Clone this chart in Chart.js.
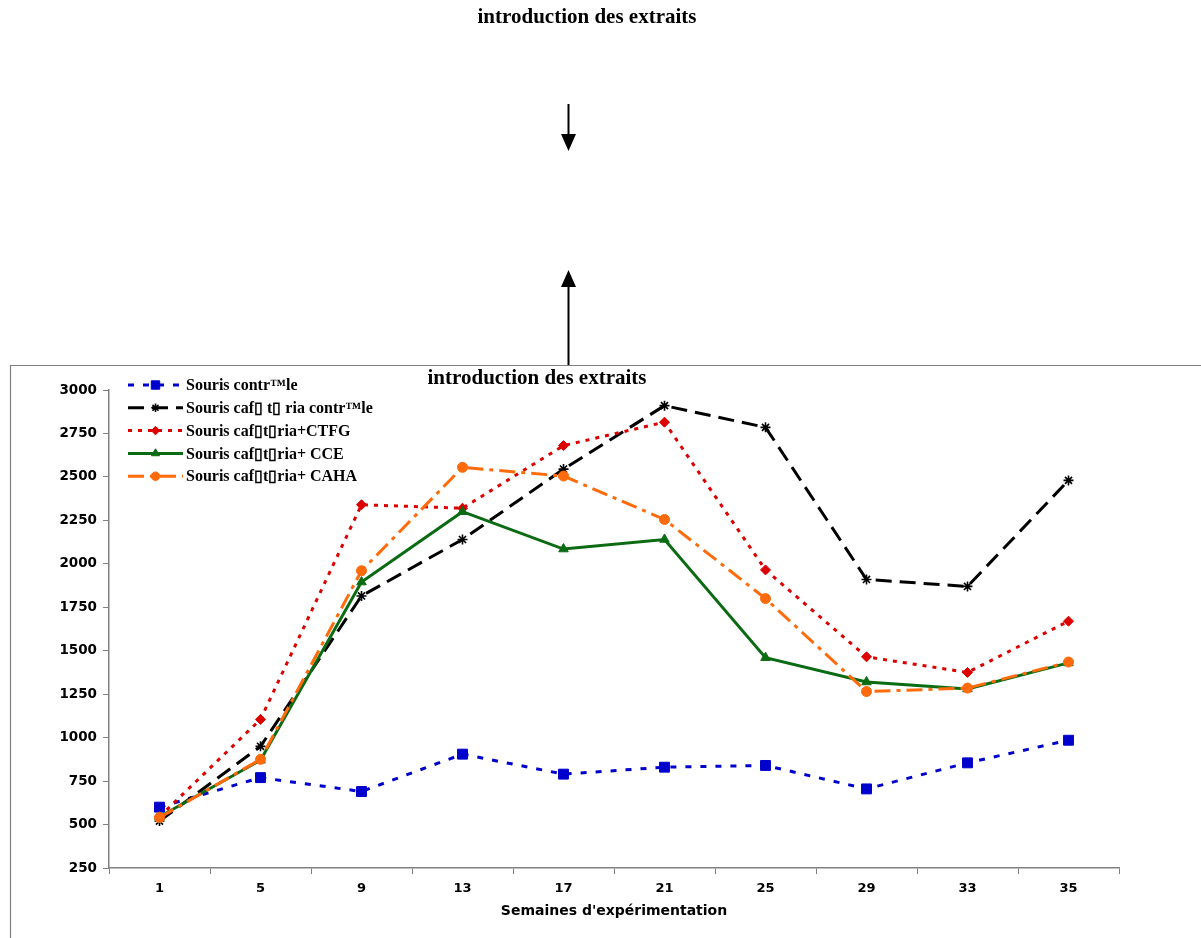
<!DOCTYPE html>
<html>
<head>
<meta charset="utf-8">
<script src="https://cdn.jsdelivr.net/npm/chart.js@4.4.1/dist/chart.umd.min.js"></script>
<style>
  html, body { margin: 0; padding: 0; background: #fff; }
  #wrap { width: 1201px; height: 938px; position: relative; }
</style>
</head>
<body>
<div id="wrap"><canvas id="poids" width="1201" height="938"></canvas></div>
<script>
// semaines
var semaines = ["1", "5", "9", "13", "17", "21", "25", "29", "33", "35"];

var controle      = [600, 770, 690, 905, 790, 830, 840, 705, 855, 985];
var cafControle   = [520, 950, 1815, 2140, 2545, 2910, 2785, 1910, 1870, 2480];
var cafCTFG       = [545, 1105, 2340, 2320, 2680, 2815, 1965, 1465, 1375, 1670];
var cafCCE        = [545, 870, 1895, 2300, 2085, 2140, 1460, 1320, 1280, 1430];
var cafCAHA       = [540, 875, 1960, 2555, 2505, 2255, 1800, 1265, 1285, 1435];

var yTicks = { min: 250, max: 3000, step: 250 };

var titre = "introduction des extraits";
var xTitre = "Semaines d'exp\u00e9rimentation";

var noms = [
	"Souris contr\u2122le",
	"Souris caf\u25AF t\u25AF ria contr\u2122le",
	"Souris caf\u25AFt\u25AFria+CTFG",
	"Souris caf\u25AFt\u25AFria+ CCE",
	"Souris caf\u25AFt\u25AFria+ CAHA"
];

function serie(label, data, color, dash, style, radius, order) {
	return {
		label: label,
		data: data,
		fill: false,
		lineTension: 0,
		borderWidth: 3,
		borderColor: color,
		backgroundColor: color,
		borderDash: dash,
		pointStyle: style,
		pointRadius: radius,
		pointBorderWidth: style === "star" ? 1.6 : 1,
		pointBackgroundColor: color,
		pointBorderColor: color,
		order: order
	};
}

var datasets = [
	serie(noms[0], controle, "#0000CC", [6, 9], "rect", 7, 5),
	serie(noms[1], cafControle, "#000000", [16, 8], "star", 5, 4),
	serie(noms[2], cafCTFG, "#DD0000", [4, 6], "rectRot", 5, 3),
	serie(noms[3], cafCCE, "#0B6B12", [], "triangle", 5.5, 2),
	serie(noms[4], cafCAHA, "#FF6A0A", [16, 6, 4, 6], "circle", 5, 1)
];

// titre, flèches, cadre et légende
var decor = {
	id: "decor",
	afterDraw: function(chart) {
		var ctx = chart.ctx;
		ctx.save();

		// cadre du graphique
		ctx.strokeStyle = "#808080";
		ctx.lineWidth = 1.2;
		ctx.beginPath();
		ctx.moveTo(10.5, 938);
		ctx.lineTo(10.5, 365.5);
		ctx.lineTo(1201, 365.5);
		ctx.stroke();

		ctx.fillStyle = "#000";
		ctx.font = "bold 21px 'Liberation Serif'";
		ctx.textAlign = "center";
		ctx.textBaseline = "middle";
		ctx.fillText(titre, 587, 18);
		ctx.fillText(titre, 537, 379);

		// flèches
		ctx.strokeStyle = "#000";
		ctx.lineWidth = 2;
		ctx.beginPath();
		ctx.moveTo(568.5, 104);
		ctx.lineTo(568.5, 136);
		ctx.moveTo(568.5, 286);
		ctx.lineTo(568.5, 365);
		ctx.stroke();
		ctx.beginPath();
		ctx.moveTo(561, 134);
		ctx.lineTo(576, 134);
		ctx.lineTo(568.5, 151);
		ctx.closePath();
		ctx.moveTo(561, 287);
		ctx.lineTo(576, 287);
		ctx.lineTo(568.5, 270);
		ctx.closePath();
		ctx.fill();

		// légende
		var y0 = 385, dy = 22.8;
		chart.data.datasets.forEach(function(ds, i) {
			var y = y0 + i * dy;
			ctx.strokeStyle = ds.borderColor;
			ctx.fillStyle = ds.borderColor;
			ctx.lineWidth = ds.borderWidth;
			ctx.setLineDash(ds.borderDash);
			ctx.beginPath();
			ctx.moveTo(128, y);
			ctx.lineTo(183, y);
			ctx.stroke();
			ctx.setLineDash([]);
			ctx.lineWidth = ds.pointBorderWidth;
			Chart.helpers.drawPoint(ctx, {
				pointStyle: ds.pointStyle,
				radius: ds.pointRadius * 0.85,
				rotation: 0,
				borderWidth: ds.pointBorderWidth
			}, 155.5, y);
			ctx.fillStyle = "#000";
			ctx.font = "bold 16px 'Liberation Serif'";
			ctx.textAlign = "left";
			ctx.textBaseline = "middle";
			ctx.fillText(ds.label, 186, y + 1);
		});
		ctx.restore();
	}
};

var ctx = document.getElementById("poids");

var graphe = new Chart(ctx, {
	type: "line",
	data: { labels: semaines, datasets: datasets },
	options: {
		responsive: false,
		animation: false,
		layout: { padding: { top: 390, right: 82, left: 0, bottom: 18 } },
		plugins: {
			legend: { display: false },
			tooltip: { enabled: false },
			title: { display: false }
		},
		scales: {
			x: {
				offset: true,
				grid: {
					offset: true,
					drawOnChartArea: false,
					drawTicks: true,
					tickLength: 6,
					color: "#808080",
					lineWidth: 1
				},
				border: { color: "#808080", width: 1.5 },
				ticks: {
					color: "#000",
					padding: 7,
					font: { family: "'DejaVu Sans'", weight: "bold", size: 13 }
				},
				title: {
					display: true,
					text: xTitre,
					color: "#000",
					padding: { top: 6, bottom: 0 },
					font: { family: "'DejaVu Sans'", weight: "bold", size: 14 }
				},
				afterFit: function(s) { s.height = 52; }
			},
			y: {
				min: yTicks.min,
				max: yTicks.max,
				grid: {
					drawOnChartArea: false,
					drawTicks: true,
					tickLength: 6,
					color: "#808080",
					lineWidth: 1
				},
				border: { color: "#808080", width: 1.5 },
				ticks: {
					stepSize: yTicks.step,
					color: "#000",
					padding: 6,
					font: { family: "'DejaVu Sans'", weight: "bold", size: 13.5 },
					callback: function(v) { return String(v); }
				},
				afterFit: function(s) { s.width = 109; }
			}
		}
	},
	plugins: [decor]
});
</script>
</body>
</html>
